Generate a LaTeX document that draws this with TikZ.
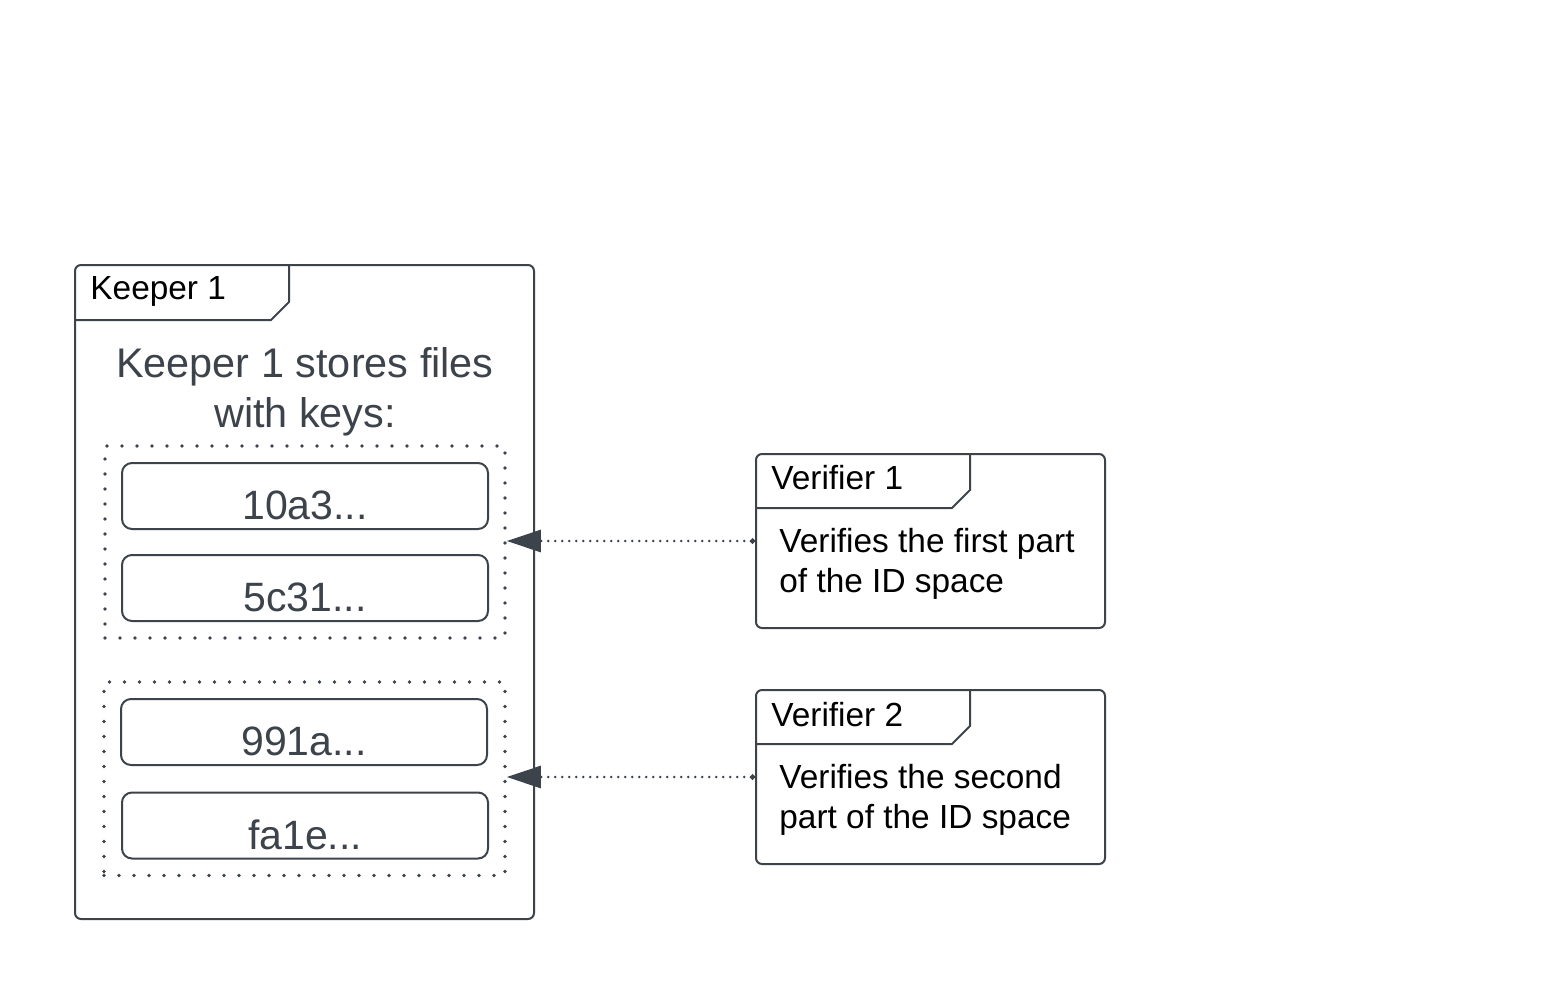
\documentclass[tikz,border=0pt]{standalone}
\usepackage{fontspec}
\setmainfont{Liberation Sans}
\usetikzlibrary{arrows.meta,fit}
\definecolor{linegray}{HTML}{3D434B}

\begin{document}
\begin{tikzpicture}[x=0.5pt, y=-0.5pt,
            panel/.style={draw=linegray, line width=1pt, rounded corners=3pt, inner sep=0pt},
            tabline/.style={draw=linegray, line width=1pt},
            tabtext/.style={anchor=west, inner sep=0pt, font=\fontsize{16.7}{20}\selectfont},
            keybox/.style={draw=linegray, line width=1pt, rounded corners=5pt, minimum width=183pt, minimum height=33pt,
                inner sep=0pt, text=linegray, font=\fontsize{20.5}{24}\selectfont, text height=23.5pt, text depth=0pt},
            keygroup/.style={draw=linegray, line width=1.8pt, dash pattern=on 0pt off 7.5pt, line cap=round, inner sep=8pt},
            checkline/.style={draw=linegray, line width=1.4pt, dash pattern=on 0pt off 3.5pt, line cap=round,
                arrows={Circle[length=2.5pt]-Triangle[length=17pt, width=11pt]}}]
            \useasboundingbox (0,0) rectangle (1556,996);

            \node (keeper) [panel, minimum width=229.5pt, minimum height=327pt] at (304.5,592) {};
            \draw [tabline] (keeper.north west) ++(0,56) -- ++(197,0) -- ++(18,-18) -- ++(0,-38);
            \node (keepertitle) [tabtext] at (90,291) {Keeper 1};
            \node (keepertext) [align=center, text=linegray, font=\fontsize{20.7}{25}\selectfont] at (305,391.5)
                {Keeper 1 stores files\\with keys:};

            \node (key1) [keybox] at (305,496) {10a3...};
            \node (key2) [keybox] at (305,588) {5c31...};
            \node (key3) [keybox] at (304,732) {991a...};
            \node (key4) [keybox] at (305,825.5) {fa1e...};
            \node (group1) [keygroup, fit=(key1)(key2)] {};
            \node (group2) [keygroup, fit=(key3)(key4)] {};

            \node (verifier1) [panel, minimum width=174.5pt, minimum height=87pt] at (930.5,541) {};
            \draw [tabline] (verifier1.north west) ++(0,55) -- ++(197,0) -- ++(18,-18) -- ++(0,-37);
            \node (verifier1title) [tabtext] at (771,478) {Verifier 1};
            \node (verifier1text) [tabtext, align=left] at (779,564) {Verifies the first part\\of the ID space};

            \node (verifier2) [panel, minimum width=174.5pt, minimum height=87pt] at (930.5,777) {};
            \draw [tabline] (verifier2.north west) ++(0,55) -- ++(197,0) -- ++(18,-18) -- ++(0,-37);
            \node (verifier2title) [tabtext] at (771,715) {Verifier 2};
            \node (verifier2text) [tabtext, align=left] at (779,800) {Verifies the second\\part of the ID space};

            \draw [checkline] (verifier1.west) -- (verifier1.west -| group1.east);
            \draw [checkline] (verifier2.west) -- (verifier2.west -| group2.east);
\end{tikzpicture}
\end{document}
